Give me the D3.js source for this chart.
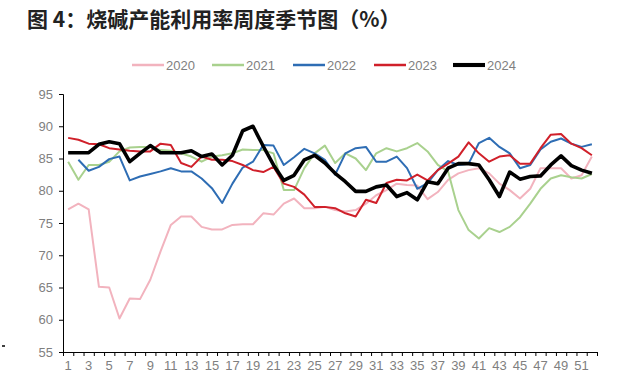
<!DOCTYPE html>
<html><head><meta charset="utf-8">
<script src="https://cdn.jsdelivr.net/npm/d3@7"></script>
<style>
body{margin:0;background:#fff;}
svg{display:block;}
</style></head>
<body>
<svg id="chart" width="640" height="390"></svg>
<script>
const title = "图 4：烧碱产能利用率周度季节图（%）";
const weeks = d3.range(1, 53);
const yTicks = [55, 60, 65, 70, 75, 80, 85, 90, 95];
const seriesNames = ["2020", "2021", "2022", "2023", "2024"];
const colors = ["#F2B3BE", "#A9D18E", "#2E6DB4", "#D0202A", "#000000"];
const widths = [2, 2, 2, 2, 3.6];

const v2020 = [77.1, 78.0, 77.1, 65.1, 65.0, 60.2, 63.3, 63.2, 66.2, 70.6, 74.7, 76.0, 76.0, 74.4, 74.0, 74.0, 74.7, 74.8, 74.8, 76.5, 76.3, 78.0, 78.8, 77.3, 77.3, 77.5, 77.0, 76.8, 77.0, 78.0, 79.3, 80.1, 81.1, 80.9, 80.8, 78.7, 79.8, 81.7, 82.7, 83.2, 83.5, 82.7, 81.1, 80.1, 78.8, 80.3, 83.5, 83.5, 83.5, 81.9, 82.4, 85.3];
const v2021 = [84.5, 81.7, 84.0, 84.0, 84.5, 86.1, 86.7, 86.8, 86.8, 86.3, 86.2, 85.8, 85.3, 84.5, 85.3, 85.5, 85.8, 86.4, 86.3, 86.3, 85.8, 80.1, 80.1, 83.5, 85.8, 87.0, 84.3, 85.8, 85.0, 83.2, 85.8, 86.6, 86.1, 86.6, 87.4, 86.1, 84.0, 83.0, 77.0, 73.9, 72.6, 74.2, 73.6, 74.4, 75.9, 78.0, 80.3, 81.9, 82.4, 82.1, 81.9, 82.6];
const v2022 = [null, 84.8, 83.1, 83.7, 84.9, 85.3, 81.6, 82.2, 82.6, 83.0, 83.5, 83.0, 83.0, 81.9, 80.4, 78.1, 81.1, 83.6, 84.5, 87.1, 87.0, 84.0, 85.2, 86.5, 85.8, 84.8, 82.5, 85.8, 86.6, 86.8, 84.5, 84.5, 85.3, 83.5, 80.3, 81.2, 83.2, 84.6, 84.0, 84.2, 87.4, 88.2, 86.8, 85.8, 83.5, 84.0, 86.4, 87.6, 88.1, 87.3, 86.8, 87.2];
const v2023 = [88.2, 87.9, 87.3, 87.2, 86.6, 86.4, 86.2, 86.1, 86.1, 87.3, 87.1, 84.3, 83.7, 85.3, 84.8, 84.8, 84.6, 84.0, 83.2, 82.9, 83.7, 81.1, 80.6, 79.4, 77.5, 77.5, 77.3, 76.5, 76.0, 78.6, 78.1, 81.2, 81.7, 81.6, 82.5, 81.6, 83.2, 84.2, 85.3, 87.5, 85.8, 84.5, 85.3, 85.5, 84.2, 84.2, 86.6, 88.7, 88.8, 87.3, 86.6, 85.5];
const v2024 = [85.9, 85.9, 85.9, 87.2, 87.6, 87.3, 84.5, 85.8, 87.0, 85.9, 85.9, 85.9, 86.2, 85.3, 85.7, 84.0, 85.5, 89.3, 90.0, 86.9, 84.0, 81.6, 82.4, 84.8, 85.5, 84.3, 82.7, 81.4, 79.9, 79.9, 80.6, 80.9, 79.1, 79.7, 78.6, 81.4, 81.1, 83.5, 84.2, 84.2, 84.0, 81.7, 79.1, 82.9, 81.8, 82.2, 82.3, 84.0, 85.4, 83.9, 83.2, 82.7];
const allValues = [v2020, v2021, v2022, v2023, v2024];

const svg = d3.select("#chart");
const m = {left: 63, right: 597, top: 94, bottom: 352};

svg.append("text").attr("x", 27).attr("y", 27)
  .attr("font-family", "'Noto Sans CJK SC', sans-serif").attr("font-weight", "bold")
  .attr("font-size", 21).attr("fill", "#222").text(title);

const x = d3.scaleBand().domain(weeks).range([m.left, m.right]).padding(0);
const y = d3.scaleLinear().domain([55, 95]).range([m.bottom, m.top]);
const cx = w => x(w) + x.bandwidth() / 2;

const fontF = "'Liberation Sans', Arial, sans-serif";
const labelColor = "#7f7f7f";

// y axis
const ya = svg.append("g").attr("transform", `translate(${m.left},0)`)
  .call(d3.axisLeft(y).tickValues(yTicks).tickSize(4).tickPadding(6));
ya.select(".domain").attr("stroke", "#000");
ya.selectAll(".tick line").attr("stroke", "#000");
ya.selectAll("text").attr("font-family", fontF).attr("font-size", 13).attr("fill", labelColor);

// x axis with ticks at band boundaries
const xa = svg.append("g").attr("transform", `translate(0,${m.bottom})`)
  .call(d3.axisBottom(x).tickValues(weeks.filter(w => w % 2 === 1)).tickSize(0).tickPadding(9).tickSizeOuter(0));
xa.select(".domain").attr("stroke", "#000");
xa.selectAll("text").attr("font-family", fontF).attr("font-size", 13).attr("fill", labelColor);
xa.selectAll(".tick line").remove();
const bounds = weeks.map(w => x(w)).concat([m.right]);
xa.selectAll("line.bt").data(bounds).enter().append("line").attr("class", "bt")
  .attr("x1", d => d + 0.5).attr("x2", d => d + 0.5).attr("y1", 0).attr("y2", 4).attr("stroke", "#000");

// lines
const line = d3.line().defined(d => d.v != null).x(d => cx(d.w)).y(d => y(d.v));
allValues.forEach((vals, i) => {
  svg.append("path")
    .datum(vals.map((v, j) => ({w: weeks[j], v})))
    .attr("fill", "none").attr("stroke", colors[i]).attr("stroke-width", widths[i])
    .attr("stroke-linejoin", "round").attr("d", line);
});

// legend
const legX = [132, 212, 293, 374, 453];
seriesNames.forEach((n, i) => {
  const g = svg.append("g").attr("transform", `translate(${legX[i]},65)`);
  g.append("line").attr("x1", 0).attr("x2", 32).attr("y1", 0).attr("y2", 0)
    .attr("stroke", colors[i]).attr("stroke-width", widths[i] + 0.5);
  g.append("text").attr("x", 34).attr("y", 4.5).attr("font-family", fontF)
    .attr("font-size", 13).attr("fill", labelColor).text(n);
});

// small stray mark at lower-left of the reference image
svg.append("line").attr("x1", 2).attr("x2", 5).attr("y1", 346).attr("y2", 346)
  .attr("stroke", "#000").attr("stroke-width", 1.5);
</script>
</body></html>
